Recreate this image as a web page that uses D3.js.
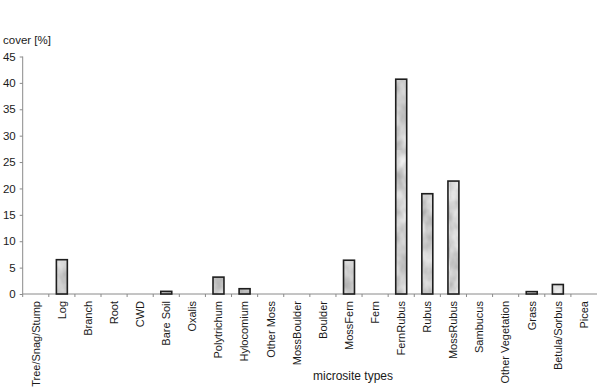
<!DOCTYPE html>
<html>
<head>
<meta charset="utf-8">
<script src="https://cdn.jsdelivr.net/npm/d3@7"></script>
<style>
  html, body { margin: 0; padding: 0; background: #fff; }
  svg { display: block; font-family: "Liberation Sans", Arial, sans-serif; }
</style>
</head>
<body>
<svg id="chart" width="597" height="387"></svg>
<script>
const categories = ["Tree/Snag/Stump", "Log", "Branch", "Root", "CWD", "Bare Soil", "Oxalis",
  "Polytrichum", "Hylocomium", "Other Moss", "MossBoulder", "Boulder", "MossFern", "Fern",
  "FernRubus", "Rubus", "MossRubus", "Sambucus", "Other Vegetation", "Grass", "Betula/Sorbus", "Picea"];
const coverValues = [0, 6.5, 0, 0, 0, 0.5, 0, 3.2, 1.0, 0, 0, 0, 6.4, 0, 40.7, 19.0, 21.4, 0, 0, 0.45, 1.8, 0];
const yTicks = [0, 5, 10, 15, 20, 25, 30, 35, 40, 45];
const yTitle = "cover [%]";
const xTitle = "microsite types";

(function () {
const svg = d3.select("#chart");
const mLeft = 22.7, mRight = 597, mTop = 56.5, mBottom = 294;

// texture for bars
const defs = svg.append("defs");
const filt = defs.append("filter").attr("id", "marble")
  .attr("x", 0).attr("y", 0).attr("width", 1).attr("height", 1)
  .attr("color-interpolation-filters", "sRGB");
filt.append("feTurbulence").attr("type", "fractalNoise").attr("baseFrequency", "0.07 0.05")
  .attr("numOctaves", 3).attr("seed", 7).attr("result", "noise");
filt.append("feColorMatrix").attr("in", "noise").attr("type", "matrix")
  .attr("values", "0.4 0 0 0 0.6  0.4 0 0 0 0.6  0.4 0 0 0 0.6  0 0 0 0 1");
const pat = defs.append("pattern").attr("id", "barfill").attr("patternUnits", "userSpaceOnUse")
  .attr("width", 150).attr("height", 150);
pat.append("rect").attr("width", 150).attr("height", 150).attr("fill", "#d8d8d8");
pat.append("rect").attr("width", 150).attr("height", 150).attr("filter", "url(#marble)");

const x = d3.scaleBand().domain(categories).range([mLeft, mRight]).paddingInner(0.58).paddingOuter(0.29);
const y = d3.scaleLinear().domain([0, 45]).range([mBottom, mTop]);

const axisColor = "#8a8a8a";
const textColor = "#1a1a1a";
const fontSize = 11;

// y axis
const yAxis = svg.append("g").attr("transform", `translate(${mLeft},0)`)
  .call(d3.axisLeft(y).tickValues(yTicks).tickSize(3).tickPadding(4).tickFormat(d3.format("d")));
yAxis.select(".domain").attr("stroke", axisColor).attr("d", `M0,${mTop}V${mBottom}`);
yAxis.selectAll(".tick line").attr("stroke", axisColor);
yAxis.selectAll(".tick text").attr("fill", textColor).attr("font-size", 11.5)
  .attr("font-family", "Liberation Sans, Arial, sans-serif");

// x axis labels
const xAxis = svg.append("g").attr("transform", `translate(0,${mBottom})`)
  .call(d3.axisBottom(x).tickSize(0).tickPadding(0));
xAxis.select(".domain").attr("stroke", axisColor).attr("d", `M${mLeft},0H${mRight}`);
xAxis.selectAll(".tick line").remove();
xAxis.selectAll(".tick text")
  .attr("fill", textColor).attr("font-size", fontSize)
  .attr("font-family", "Liberation Sans, Arial, sans-serif")
  .attr("text-anchor", "end")
  .attr("transform", "rotate(-90)")
  .attr("x", -7).attr("y", 0).attr("dy", "0.35em");

// boundary ticks between categories
const step = x.step();
svg.append("g").selectAll("line").data(categories)
  .join("line")
  .attr("x1", c => x(c) + x.bandwidth() / 2 - step / 2)
  .attr("x2", c => x(c) + x.bandwidth() / 2 - step / 2)
  .attr("y1", mBottom).attr("y2", mBottom + 3)
  .attr("stroke", axisColor).attr("stroke-width", 1);

// bars
svg.append("g").selectAll("rect")
  .data(categories.map((c, i) => ({ c, v: coverValues[i] })).filter(d => d.v > 0))
  .join("rect")
  .attr("x", d => x(d.c))
  .attr("y", d => y(d.v))
  .attr("width", x.bandwidth())
  .attr("height", d => y(0) - y(d.v))
  .attr("fill", "url(#barfill)")
  .attr("stroke", "#1e1e1e")
  .attr("stroke-width", 1.6);

// titles
svg.append("text").attr("x", 3).attr("y", 44).attr("font-size", 11.5).attr("fill", textColor)
  .text(yTitle);
svg.append("text").attr("x", 313).attr("y", 380).attr("font-size", 12).attr("fill", textColor)
  .text(xTitle);
})();
</script>
</body>
</html>
